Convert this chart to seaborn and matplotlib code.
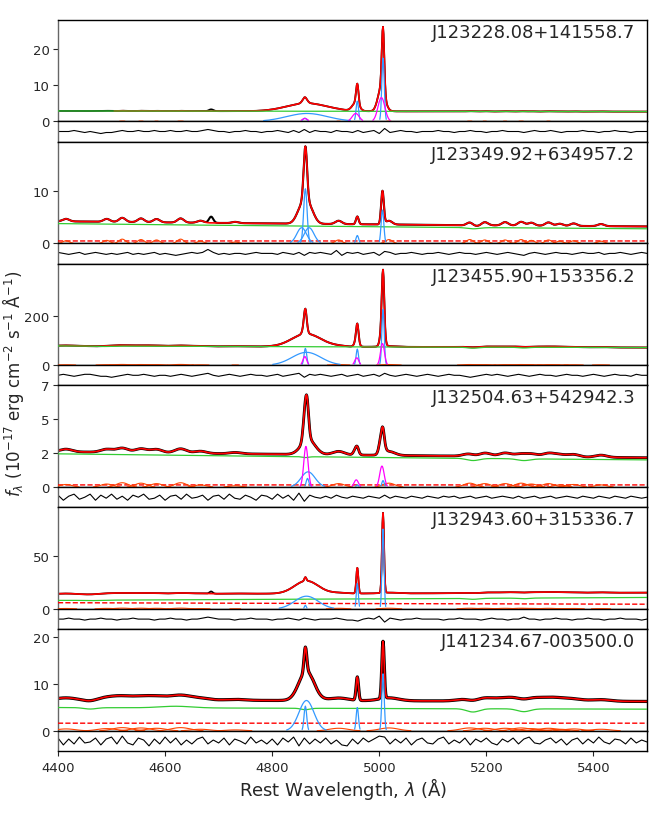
import numpy as np
import matplotlib
matplotlib.use('Agg')
import matplotlib.pyplot as plt
import seaborn as sns

# ---- panel set-up -------------------------------------------------------
NAMES = ['J123228.08+141558.7', 'J123349.92+634957.2', 'J123455.90+153356.2',
         'J132504.63+542942.3', 'J132943.60+315336.7', 'J141234.67-003500.0']
YMAX = [28.2, 19.6, 411, 7.0, 95.4, 21.75]
YTICKS = [[0, 10, 20], [0, 10], [0, 200], [0, 7 / 3, 14 / 3, 7], [0, 50], [0, 10, 20]]
YTICKLABELS = [['0', '10', '20'], ['0', '10'], ['0', '200'], ['0', '2', '5', '7'],
               ['0', '50'], ['0', '10', '20']]
FIT_START = [4505, 4400, 4400, 4400, 4400, 4400]

# continuum (green): flux at 4400 A and power-law slope, plus host features
CONT_F4400 = [2.9, 3.8, 78, 2.29, 8.1, 5.0]
CONT_ALPHA = [-0.3, -1.37, -0.4, -0.9, 1.3, -0.325]
CONT_FEAT = [
    [],
    [(5175, -0.25, 12)],
    [(4480, -2, 15), (5175, -4, 12), (5270, -3, 10)],
    [(4862, -0.06, 6), (5175, -0.15, 12), (5270, -0.12, 12)],
    [(4460, -0.4, 15), (5175, -0.9, 12), (5270, -0.6, 10)],
    [(4460, -0.3, 12), (4620, 0.35, 30), (4862, -0.3, 8), (5175, -0.7, 12), (5270, -0.6, 12)],
]
# red dashed component: flux at 4400 A and slope (None = not shown)
DASH = [None, (0.45, 0.0), None, (0.15, 0.0), (5.9, -1.21), (1.65, 0.0)]

# Fe II template lines (orange)
FE_WAVE = [4415, 4491, 4520, 4555, 4584, 4629, 4666, 4731, 4924, 5018,
           5169, 5197, 5235, 5265, 5284, 5316, 5337, 5363, 5414]
FE_REL = [0.6, 0.7, 1.0, 0.9, 0.8, 1.0, 0.5, 0.3, 0.8, 0.9,
          0.9, 0.8, 0.8, 0.9, 0.7, 0.8, 0.5, 0.6, 0.5]
FE_AMP = [0.08, 0.8, 3.0, 0.3, 0.8, 0.7]
FE_SIG = [6, 6, 15, 11, 15, 18]

# emission line components (center, peak, sigma)
BLUE = [
    [(4865, 2.2, 38), (4861, 0.9, 3.5), (4959, 5.6, 2.3), (5007, 17.5, 2.3)],
    [(4855, 3.0, 9), (4869, 3.0, 9), (4862, 10.5, 3.2), (4959, 1.5, 2.5), (5006, 6.4, 2.5)],
    [(4864, 52, 27), (4862, 68, 2.5), (4959, 65, 2.2), (5007, 225, 2.2)],
    [(4867, 1.05, 13), (4866, 0.6, 2.5), (4959, 0.15, 2.2), (5007, 0.45, 2.2)],
    [(4864, 12, 22), (4862, 3.5, 1.8), (4959, 24, 1.9), (5007, 75, 1.9)],
    [(4864, 6.5, 14), (4862, 5.3, 2.5), (4959, 5.0, 2.2), (5007, 12.2, 2.2)],
]
MAGENTA = [
    [(4861, 0.8, 5), (4956, 2.2, 6.5), (5004, 6.6, 6.5)],
    [],
    [(4861, 35, 3.5), (4958, 30, 3.7), (5006, 88, 3.7)],
    [(4863, 2.8, 4), (4957, 0.5, 4), (5005, 1.45, 4.2)],
    [],
    [],
]
# features seen in the data but not in the fit
DATA_EXTRA = [[(4686, 0.5, 4)], [(4686, 1.2, 4)], [], [], [(4686, 2.0, 3)], []]

# residuals, one value every 10 A from 4400 to 5500, in units of RES_UNIT
RES_UNIT = [0.28, 0.19, 4.0, 0.07, 0.93, 0.21]
RESID = [
    [0, 0, 0, 1, 0, -1, 0, -1, -2, -1, -1, 0, 1, 0, 0, 1, 0, 0, 1, 0,
     0, 1, 0, 0, 1, 0, 0, 1, 2, 1, 0, 0, -1, 0, 0, 1, 0, 0, -1, 0,
     0, 1, 0, -1, 1, -1, 2, -1, 1, 0, 0, -1, 1, 0, 0, -1, 1, -1, 0, 1,
     -2, 3, -1, 0, 1, 0, 0, -1, 0, 0, 0, 1, 0, 0, -1, 0, 0, 1, 0, 0,
     -1, 0, 0, 1, 0, 0, 0, -1, 0, 1, 0, 0, 1, 0, -1, 0, 0, 0, 1, 0,
     0, -1, 0, 0, 1, 0, 0, -1, 0, 0, 0],
    [1, 0, -1, 0, 1, -1, 0, 1, 0, -1, 0, -1, 0, 1, -1, 0, -1, 0, 1, -1,
     0, -1, -2, -1, 0, 1, 0, 1, 4, 1, -1, 0, -1, 0, 0, -1, 0, 1, 0, 0,
     0, -1, 1, 0, -1, 1, -2, 1, 0, 1, 0, -1, 3, -2, 1, 0, 1, -1, 0, 1,
     -2, 2, 1, -1, 0, 0, 1, 0, -1, 0, 0, 1, 0, -1, 0, 1, 0, 0, -1, 0,
     1, 0, -1, 0, 1, 0, -1, -2, 0, 1, 0, -1, 0, 1, 0, 0, -1, 0, 1, 0,
     0, 1, -1, 0, 0, 1, 0, -1, 0, 1, 0],
    [0, 1, 0, -1, 0, 1, 1, 0, -1, -1, -2, -1, 0, 1, 0, 0, 1, 0, -1, 0,
     0, -1, 0, 1, 0, -1, 0, 1, 2, 0, -1, 0, 1, 0, -1, 0, 1, 0, 0, -1,
     0, 1, -1, 0, 1, 2, -2, 1, 0, 1, 0, -1, 0, 1, -1, 0, 1, -1, 0, 1,
     -1, 2, 0, -1, 0, 1, 0, -1, 0, 1, 0, -1, 0, 1, 0, 0, -1, -2, -1, 0,
     1, 0, 1, 0, -1, 0, 1, 0, -1, 0, 1, 0, 0, -1, 0, 1, 0, 0, -1, 0,
     1, 0, -1, 0, 1, 0, 0, -1, 1, 0, 0],
    [2, -3, 1, 3, -2, 0, 3, -3, 2, -1, 3, -2, 1, -3, 2, 0, 3, -2, -1, 2,
     -3, 1, 2, -2, 3, -1, 0, 2, -3, 1, 2, -2, 3, -1, -2, 2, 0, -3, 2, 1,
     -2, 3, -1, 2, -3, 4, -4, 2, 0, -1, 1, -1, 2, 0, -1, 1, 0, -1, 1, 0,
     -1, 2, -1, 1, 0, -1, 1, 0, -1, 1, 0, -1, 1, 0, 1, -1, 0, 1, -1, 0,
     1, -1, 0, 1, 0, -1, 1, -1, 0, 1, -1, 0, 1, -1, 0, 1, 0, -1, 1, 0,
     -1, 1, 0, -1, 1, 0, -1, 1, 0, -1, 0],
    [0, 0, 1, 0, 0, -1, 0, 0, 1, 0, 0, -1, 0, 0, 1, 0, 0, 0, -1, 0,
     0, 1, 0, 0, -1, 0, 0, 1, 2, 1, 0, 0, 0, -1, 0, 0, 1, 0, 0, 0,
     -1, 0, 0, 1, 0, -1, 1, 0, -1, 0, 0, 0, 1, 0, -1, -1, -2, 0, 1, 0,
     3, -3, 1, 0, -1, 0, 0, 1, 0, 0, 0, 0, -1, 0, 0, 1, 0, 0, 0, -1,
     0, 1, 0, 0, -1, 0, 0, 2, 0, 0, -1, 0, 0, 1, 0, 0, -1, 0, 0, 1,
     0, 0, -1, 0, 0, 1, 0, 0, 0, -1, 0],
    [3, -4, 2, -3, 4, -2, -1, 3, -4, 2, 4, -3, 5, -2, -4, 3, 1, -5, 2, -3,
     4, -2, 3, -4, 1, -3, 2, 4, -3, 1, -2, 3, -4, 2, 0, -3, 4, -2, 1, -3,
     2, -4, 3, -1, 4, -5, 3, -3, 2, -2, 3, -3, 1, -4, -5, 2, -3, 3, -1, 2,
     5, 4, -3, 2, -2, 3, -4, 1, 3, -2, -3, 2, 4, -3, 1, -2, 3, -4, 2, -1,
     3, -2, -4, 2, -1, 3, -3, 2, 4, -2, -3, 1, 3, -2, 2, -4, 1, 3, -3, 2,
     -2, 4, -1, -3, 2, 1, -3, 3, -2, 1, -1],
]
# apparent noise of the spectrum, drawn as the width of the black line
DATA_LW = [1.3, 1.5, 1.4, 2.0, 1.3, 2.3]

C_RED, C_GREEN, C_BLUE = '#ff0000', '#33cc33', '#3399ff'
C_MAG, C_FE = '#ff00ff', '#ff4500'


def gauss(w, c, a, s):
    return a * np.exp(-0.5 * ((w - c) / s) ** 2)


def line(ax, x, y, color, lw, **kw):
    sns.lineplot(x=x, y=y, ax=ax, color=color, lw=lw, estimator=None,
                 sort=False, errorbar=None, legend=False, **kw)


sns.set_style('ticks')
plt.rcParams['font.family'] = ['DejaVu Sans']

W, H = 649, 820
fig = plt.figure(figsize=(W / 100, H / 100), dpi=100)
left, right = 58 / W, 647 / W
top_px, spec_px, res_px = 20.7, 101.7, 20.2

wave = np.arange(4400, 5500.5, 1.0)
rwave = np.arange(4400, 5500.5, 10.0)

for i in range(6):
    y0 = top_px + i * (spec_px + res_px)
    ax = fig.add_axes([left, 1 - (y0 + spec_px) / H, right - left, spec_px / H])
    axr = fig.add_axes([left, 1 - (y0 + spec_px + res_px) / H, right - left, res_px / H],
                       sharex=ax)
    floor = YMAX[i] * 0.008

    cont = CONT_F4400[i] * (wave / 4400.0) ** CONT_ALPHA[i]
    for c, a, s in CONT_FEAT[i]:
        cont = cont + gauss(wave, c, a, s)
    dash = np.zeros_like(wave)
    if DASH[i] is not None:
        dash = DASH[i][0] * (wave / 4400.0) ** DASH[i][1]
    fe_lines = [gauss(wave, c, FE_AMP[i] * r, FE_SIG[i]) for c, r in zip(FE_WAVE, FE_REL)]
    blue = [gauss(wave, c, a, s) for c, a, s in BLUE[i]]
    mag = [gauss(wave, c, a, s) for c, a, s in MAGENTA[i]]
    model = cont + dash + np.sum(fe_lines, axis=0) + np.sum(blue + mag + [0 * wave], axis=0)
    data = model.copy()
    for c, a, s in DATA_EXTRA[i]:
        data = data + gauss(wave, c, a, s)

    fit = wave >= FIT_START[i]
    line(ax, wave, data, 'black', DATA_LW[i], zorder=1)
    line(ax, wave[fit], model[fit], C_RED, 1.2, zorder=2)
    line(ax, wave, cont, C_GREEN, 0.9, zorder=3)
    if DASH[i] is not None:
        line(ax, wave, dash, C_RED, 1.0, linestyle='--', zorder=3)
    for prof in fe_lines:
        m = prof > floor * 0.25
        if m.any():
            line(ax, wave[m], prof[m], C_FE, 0.8, zorder=3)
    for prof in blue:
        m = prof > floor
        line(ax, wave[m], prof[m], C_BLUE, 0.9, zorder=4)
    for prof in mag:
        m = prof > floor
        line(ax, wave[m], prof[m], C_MAG, 0.9, zorder=4)

    resid = np.array(RESID[i]) * RES_UNIT[i]
    line(axr, rwave, resid, 'black', 0.8)
    r = YMAX[i] * res_px / (2 * spec_px)
    axr.set_ylim(-r, r)
    axr.set_yticks([])

    ax.set_xlim(4400, 5500)
    ax.set_ylim(0, YMAX[i])
    ax.set_yticks(YTICKS[i])
    ax.set_yticklabels(YTICKLABELS[i])
    ax.text(0.98, 0.97, NAMES[i], transform=ax.transAxes, ha='right', va='top',
            fontsize=13)

    for a in (ax, axr):
        a.set_xlabel('')
        a.set_ylabel('')
        for side in ('top', 'right', 'bottom'):
            a.spines[side].set_color('black')
            a.spines[side].set_visible(True)
        a.spines['left'].set_color('#666666')
        for sp in a.spines.values():
            sp.set_linewidth(1.0)
        a.tick_params(axis='y', labelsize=9.5, length=3.5, width=0.8, pad=2.5)
        a.tick_params(axis='x', labelsize=9.5, length=3.5, width=0.8)
    ax.tick_params(axis='x', bottom=False, labelbottom=False)
    if i < 5:
        axr.tick_params(axis='x', bottom=False, labelbottom=False)
    else:
        axr.set_xticks([4400, 4600, 4800, 5000, 5200, 5400])

fig.text(343 / W, 1 - 789 / H, r'Rest Wavelength, $\lambda$ ($\mathrm{\AA}$)',
         ha='center', va='center', fontsize=13)
fig.text(13 / W, 1 - 384 / H,
         r'$f_\lambda$ (10$^{-17}$ erg cm$^{-2}$ s$^{-1}$ $\mathrm{\AA}^{-1}$)',
         ha='center', va='center', rotation=90, fontsize=12)

fig.savefig('out.png', dpi=100)
